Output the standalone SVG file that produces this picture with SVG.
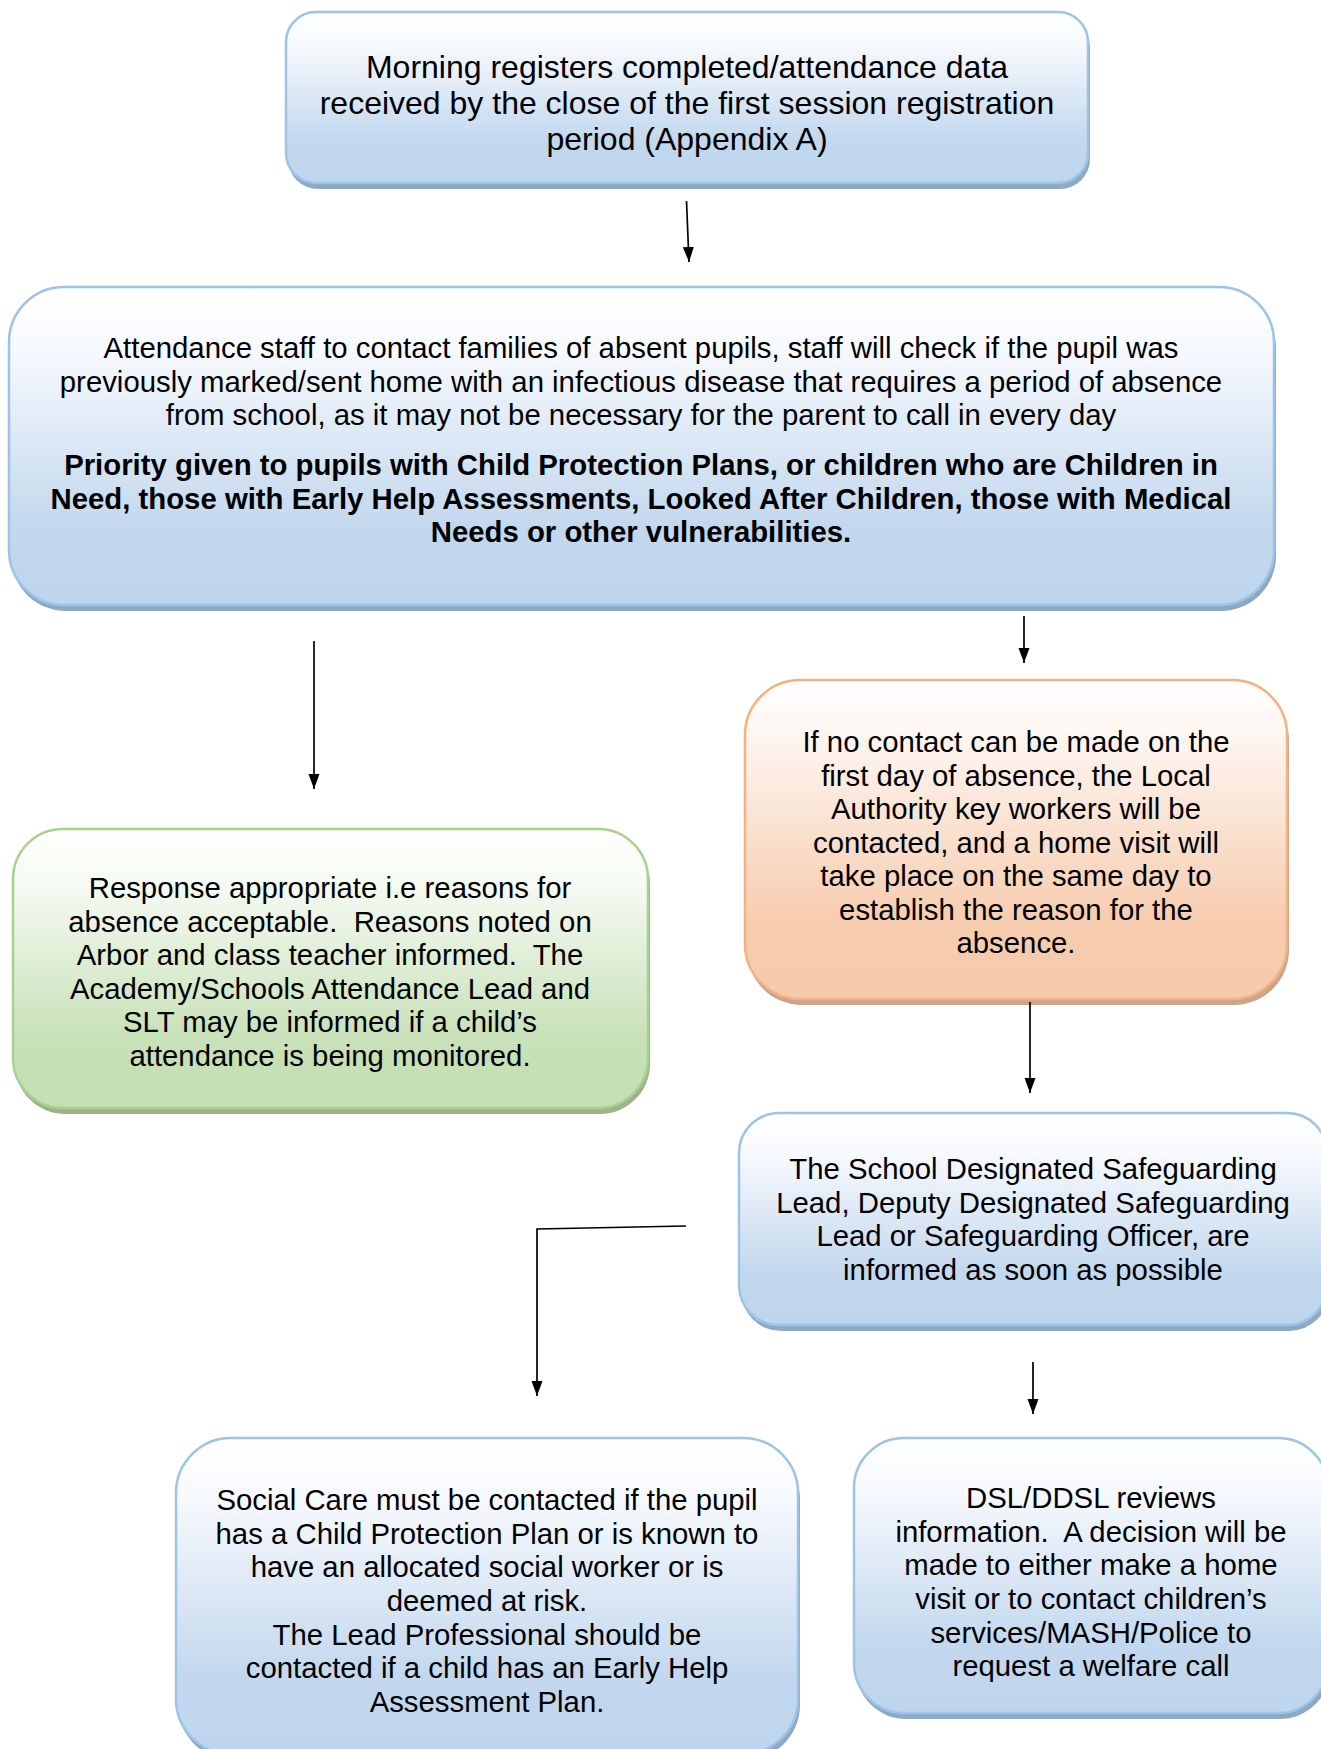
<svg xmlns="http://www.w3.org/2000/svg" width="1321" height="1749" viewBox="0 0 1321 1749">
<style>
text{font-family:"Liberation Sans",Arial,sans-serif;font-size:29.33px;fill:#000;text-anchor:middle;white-space:pre}
.big{font-size:32px}
.b{font-weight:bold}
.blue{fill:url(#gBlue);stroke:#9dc3e6;stroke-width:2.5}
.green{fill:url(#gGreen);stroke:#a9d18e;stroke-width:2.5}
.orange{fill:url(#gOrange);stroke:#f4b183;stroke-width:2.5}
.sb{fill:#8ea9c3}
.sg{fill:#9cb38e}
.so{fill:#c9a58d}
.conn{fill:none;stroke:#000;stroke-width:1.7;marker-end:url(#arr)}
</style>
<defs>
<linearGradient id="gBlue" x1="0" y1="0" x2="0" y2="1">
<stop offset="0" stop-color="#ffffff"/><stop offset="0.2" stop-color="#f6f9fd"/><stop offset="0.75" stop-color="#c3d8ee"/><stop offset="1" stop-color="#bdd5ed"/>
</linearGradient>
<linearGradient id="gGreen" x1="0" y1="0" x2="0" y2="1">
<stop offset="0" stop-color="#ffffff"/><stop offset="0.2" stop-color="#f5faf2"/><stop offset="0.75" stop-color="#c8e1b8"/><stop offset="1" stop-color="#c4dfb2"/>
</linearGradient>
<linearGradient id="gOrange" x1="0" y1="0" x2="0" y2="1">
<stop offset="0" stop-color="#ffffff"/><stop offset="0.2" stop-color="#fdf4ee"/><stop offset="0.75" stop-color="#f7cdb0"/><stop offset="1" stop-color="#f6c9aa"/>
</linearGradient>
<marker id="arr" markerUnits="userSpaceOnUse" markerWidth="16" markerHeight="12" refX="15" refY="5.5" orient="auto">
<path d="M0,0 L15,5.5 L0,11 z" fill="#000"/>
</marker>
</defs>

<g id="n1">
<rect class="sb" x="288" y="18" width="802" height="171" rx="30"/>
<rect class="blue" x="286" y="12" width="802" height="171" rx="30"/>
<text class="big" x="687" y="78">Morning registers completed/attendance data</text>
<text class="big" x="687" y="114">received by the close of the first session registration</text>
<text class="big" x="687" y="150">period (Appendix A)</text>
</g>

<g id="n2">
<rect class="sb" x="11" y="293" width="1265" height="318" rx="55"/>
<rect class="blue" x="9" y="287" width="1265" height="318" rx="55"/>
<text x="641" y="358">Attendance staff to contact families of absent pupils, staff will check if the pupil was</text>
<text x="641" y="392">previously marked/sent home with an infectious disease that requires a period of absence</text>
<text x="641" y="425">from school, as it may not be necessary for the parent to call in every day</text>
<text class="b" x="641" y="475">Priority given to pupils with Child Protection Plans, or children who are Children in</text>
<text class="b" x="641" y="509">Need, those with Early Help Assessments, Looked After Children, those with Medical</text>
<text class="b" x="641" y="542">Needs or other vulnerabilities.</text>
</g>

<g id="n3">
<rect class="sg" x="15" y="835" width="635" height="279" rx="50"/>
<rect class="green" x="13" y="829" width="635" height="279" rx="50"/>
<text x="330" y="898">Response appropriate i.e reasons for</text>
<text x="330" y="932">absence acceptable.  Reasons noted on</text>
<text x="330" y="965">Arbor and class teacher informed.  The</text>
<text x="330" y="999">Academy/Schools Attendance Lead and</text>
<text x="330" y="1032">SLT may be informed if a child’s</text>
<text x="330" y="1066">attendance is being monitored.</text>
</g>

<g id="n4">
<rect class="so" x="747" y="686" width="542" height="319" rx="55"/>
<rect class="orange" x="745" y="680" width="542" height="319" rx="55"/>
<text x="1016" y="752">If no contact can be made on the</text>
<text x="1016" y="786">first day of absence, the Local</text>
<text x="1016" y="819">Authority key workers will be</text>
<text x="1016" y="853">contacted, and a home visit will</text>
<text x="1016" y="886">take place on the same day to</text>
<text x="1016" y="920">establish the reason for the</text>
<text x="1016" y="953">absence.</text>
</g>

<g id="n5">
<rect class="sb" x="741" y="1119" width="588" height="212" rx="40"/>
<rect class="blue" x="739" y="1113" width="588" height="212" rx="40"/>
<text x="1033" y="1179">The School Designated Safeguarding</text>
<text x="1033" y="1213">Lead, Deputy Designated Safeguarding</text>
<text x="1033" y="1246">Lead or Safeguarding Officer, are</text>
<text x="1033" y="1280">informed as soon as possible</text>
</g>

<g id="n6">
<rect class="sb" x="178" y="1444" width="622" height="316" rx="55"/>
<rect class="blue" x="176" y="1438" width="622" height="316" rx="55"/>
<text x="487" y="1510">Social Care must be contacted if the pupil</text>
<text x="487" y="1544">has a Child Protection Plan or is known to</text>
<text x="487" y="1577">have an allocated social worker or is</text>
<text x="487" y="1611">deemed at risk.</text>
<text x="487" y="1645">The Lead Professional should be</text>
<text x="487" y="1678">contacted if a child has an Early Help</text>
<text x="487" y="1712">Assessment Plan.</text>
</g>

<g id="n7">
<rect class="sb" x="856" y="1444" width="474" height="275" rx="50"/>
<rect class="blue" x="854" y="1438" width="474" height="275" rx="50"/>
<text x="1091" y="1508">DSL/DDSL reviews</text>
<text x="1091" y="1542">information.  A decision will be</text>
<text x="1091" y="1575">made to either make a home</text>
<text x="1091" y="1609">visit or to contact children’s</text>
<text x="1091" y="1643">services/MASH/Police to</text>
<text x="1091" y="1676">request a welfare call</text>
</g>

<g id="connectors">
<path class="conn" d="M686.5,201 L689,262"/>
<path class="conn" d="M1024,616 L1024,663"/>
<path class="conn" d="M314,641 L314,789"/>
<path class="conn" d="M1030,1002 L1030,1093"/>
<path class="conn" d="M686,1226 L537,1229 L537,1396"/>
<path class="conn" d="M1033,1362 L1033,1414"/>
</g>
</svg>
